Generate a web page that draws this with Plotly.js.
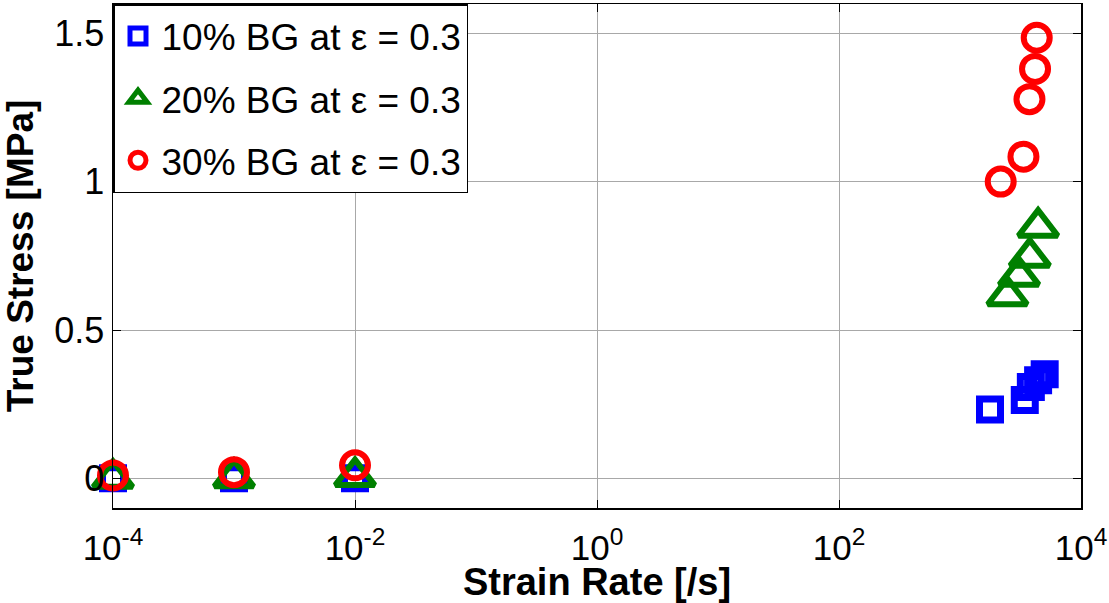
<!DOCTYPE html>
<html>
<head>
<meta charset="utf-8">
<script src="https://cdn.plot.ly/plotly-3.0.1.min.js"></script>
<style>html,body{margin:0;padding:0;background:#fff;}#chart{width:1109px;height:603px;}</style>
</head>
<body>
<div id="chart"></div>
<script>
// Data
const rate10 = [1e-4, 1e-3, 1e-2, 1770, 3430, 3850, 4420, 5010];
const stress10 = [0.0, 0.0, 0.0, 0.232, 0.264, 0.308, 0.331, 0.351];

const rate20 = [1e-4, 1e-3, 1e-2, 2466, 3077, 3775, 4420];
const stress20 = [0.0, 0.002, 0.006, 0.616, 0.682, 0.746, 0.847];

const rate30 = [1e-4, 1e-3, 1e-2, 2170, 3345, 3750, 4170, 4306];
const stress30 = [0.010, 0.021, 0.044, 1.001, 1.085, 1.279, 1.381, 1.486];

const seriesNames = ['10% BG at ε = 0.3', '20% BG at ε = 0.3', '30% BG at ε = 0.3'];

const xTickVals = [1e-4, 1e-2, 1e0, 1e2, 1e4];
const xTickText = ['10<sup>-4</sup>', '10<sup>-2</sup>', '10<sup>0</sup>', '10<sup>2</sup>', '10<sup>4</sup>'];
const yTickVals = [0, 0.5, 1, 1.5];
const yTickText = ['0', '0.5', '1', '1.5'];

const FONT = 'Arial, "Liberation Sans", sans-serif';

const traces = [
  {
    x: rate10, y: stress10, name: seriesNames[0], mode: 'markers', type: 'scatter',
    legendgroup: 'g1', cliponaxis: false,
    marker: {symbol: 'square-open', size: 21, color: '#0000ff', line: {width: 7, color: '#0000ff'}}
  },
  {
    x: rate20, y: stress20, name: seriesNames[1], mode: 'markers', type: 'scatter',
    legendgroup: 'g2', cliponaxis: false,
    marker: {symbol: 'triangle-up-open', size: 34, color: '#008000', line: {width: 6, color: '#008000'}}
  },
  {
    x: rate30, y: stress30, name: seriesNames[2], mode: 'markers', type: 'scatter',
    legendgroup: 'g3', cliponaxis: false,
    marker: {symbol: 'circle-open', size: 26, color: '#ff0000', line: {width: 6, color: '#ff0000'}}
  }
];

const layout = {
  width: 1109, height: 603,
  margin: {l: 113, r: 28, t: 4, b: 95, pad: 0},
  paper_bgcolor: '#ffffff', plot_bgcolor: '#ffffff',
  font: {family: FONT, color: '#000000', size: 36},
  showlegend: true,
  legend: {
    x: 0, y: 1, xanchor: 'left', yanchor: 'top',
    bgcolor: '#ffffff', bordercolor: '#000000', borderwidth: 1.5,
    font: {family: FONT, size: 37, color: '#000000'},
    traceorder: 'grouped', tracegroupgap: 11, itemwidth: 37
  },
  xaxis: {
    type: 'log', range: [-4, 4],
    tickvals: xTickVals, ticktext: xTickText,
    ticks: 'inside', ticklen: 8, tickwidth: 1, tickcolor: '#000000',
    showline: true, linecolor: '#000000', linewidth: 1.5, mirror: 'ticks',
    showgrid: true, gridcolor: '#a8a8a8', gridwidth: 1,
    zeroline: false,
    ticklabelstandoff: 8,
    tickfont: {family: FONT, size: 35, color: '#000000'},
    title: {text: '<b>Strain Rate [/s]</b>', font: {family: FONT, size: 38, color: '#000000'}, standoff: 8},
    automargin: false
  },
  yaxis: {
    range: [-0.1, 1.6],
    tickvals: yTickVals, ticktext: yTickText,
    ticks: 'inside', ticklen: 8, tickwidth: 1, tickcolor: '#000000',
    showline: true, linecolor: '#000000', linewidth: 1.5, mirror: 'ticks',
    showgrid: true, gridcolor: '#a8a8a8', gridwidth: 1,
    zeroline: false,
    tickfont: {family: FONT, size: 36, color: '#000000'},
    title: {text: '<b>True Stress [MPa]</b>', font: {family: FONT, size: 37, color: '#000000'}, standoff: 10},
    automargin: false
  }
};

Plotly.newPlot('chart', traces, layout, {staticPlot: true, displayModeBar: false});
</script>
</body>
</html>
